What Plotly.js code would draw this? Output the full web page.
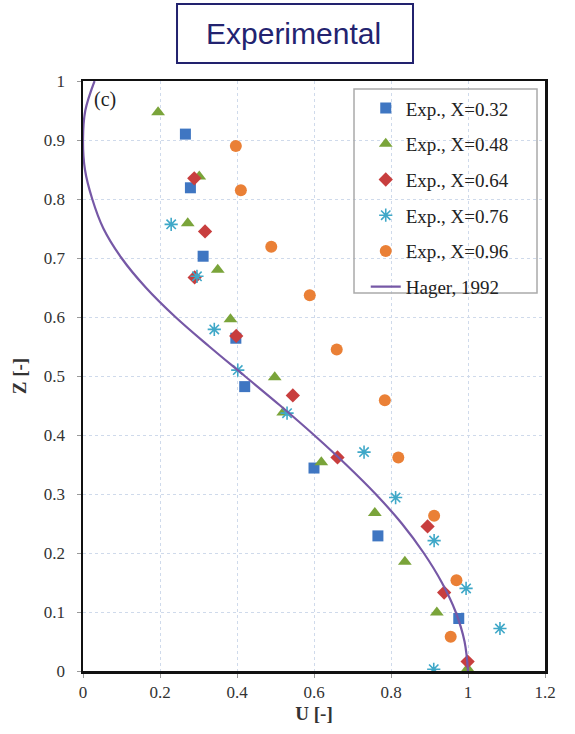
<!DOCTYPE html>
<html>
<head>
<meta charset="utf-8">
<script src="https://cdn.plot.ly/plotly-3.0.1.min.js"></script>
<style>html,body{margin:0;padding:0;background:#fff;}#chart{width:575px;height:734px;}</style>
</head>
<body>
<div id="chart"></div>
<script>
// Exp., X=0.32
const u032 = [0.266, 0.279, 0.312, 0.397, 0.420, 0.600, 0.766, 0.976];
const z032 = [0.910, 0.819, 0.703, 0.564, 0.482, 0.344, 0.229, 0.089];
// Exp., X=0.48
const u048 = [0.195, 0.302, 0.272, 0.350, 0.383, 0.498, 0.520, 0.619, 0.758, 0.836, 0.919, 0.999];
const z048 = [0.947, 0.838, 0.759, 0.680, 0.596, 0.498, 0.438, 0.354, 0.268, 0.185, 0.099, 0.004];
// Exp., X=0.64
const u064 = [0.289, 0.317, 0.290, 0.398, 0.545, 0.661, 0.895, 0.938, 0.999];
const z064 = [0.835, 0.745, 0.667, 0.568, 0.467, 0.362, 0.245, 0.133, 0.016];
// Exp., X=0.76
const u076 = [0.229, 0.296, 0.341, 0.402, 0.530, 0.730, 0.812, 0.912, 0.995, 1.083, 0.911];
const z076 = [0.757, 0.669, 0.579, 0.510, 0.437, 0.371, 0.294, 0.221, 0.140, 0.072, 0.003];
// Exp., X=0.96
const u096 = [0.397, 0.410, 0.489, 0.589, 0.659, 0.784, 0.819, 0.912, 0.970, 0.955];
const z096 = [0.890, 0.815, 0.719, 0.637, 0.545, 0.459, 0.362, 0.263, 0.154, 0.058];
// Hager, 1992
const uHager = [0.030, 0.006, 0.000, 0.005, 0.024, 0.053, 0.100, 0.163, 0.240, 0.328, 0.420, 0.512, 0.600, 0.683, 0.760, 0.828, 0.885, 0.932, 0.968, 0.991, 1.000];
const zHager = [1.00, 0.95, 0.90, 0.85, 0.80, 0.75, 0.70, 0.65, 0.60, 0.55, 0.50, 0.45, 0.40, 0.35, 0.30, 0.25, 0.20, 0.15, 0.10, 0.05, 0.00];

const xTicks = [0, 0.2, 0.4, 0.6, 0.8, 1, 1.2];
const xTickText = ['0', '0.2', '0.4', '0.6', '0.8', '1', '1.2'];
const yTicks = [0, 0.1, 0.2, 0.3, 0.4, 0.5, 0.6, 0.7, 0.8, 0.9, 1];
const yTickText = ['0', '0.1', '0.2', '0.3', '0.4', '0.5', '0.6', '0.7', '0.8', '0.9', '1'];

const serif = '"Liberation Serif", "Times New Roman", serif';

const traces = [
  {x: u032, y: z032, name: 'Exp., X=0.32', mode: 'markers', legendgroup: 'a',
   marker: {symbol: 'square', size: 11, color: '#3f76c2'}},
  {x: u048, y: z048, name: 'Exp., X=0.48', mode: 'markers', legendgroup: 'b',
   marker: {symbol: 'triangle-up', size: 12, color: '#7aa43a'}},
  {x: u064, y: z064, name: 'Exp., X=0.64', mode: 'markers', legendgroup: 'c',
   marker: {symbol: 'diamond', size: 11, color: '#c83e3e'}},
  {x: u076, y: z076, name: 'Exp., X=0.76', mode: 'markers', legendgroup: 'd',
   marker: {symbol: 'asterisk-open', size: 11, color: '#3fa8c8', line: {width: 1.6, color: '#3fa8c8'}}},
  {x: u096, y: z096, name: 'Exp., X=0.96', mode: 'markers', legendgroup: 'e',
   marker: {symbol: 'circle', size: 12, color: '#ea8036'}},
  {x: uHager, y: zHager, name: 'Hager, 1992', mode: 'lines', legendgroup: 'f',
   line: {color: '#7658a6', width: 2.2, shape: 'spline', smoothing: 1}}
];

const layout = {
  width: 575, height: 734,
  margin: {l: 83, r: 30, t: 81, b: 63},
  paper_bgcolor: '#ffffff', plot_bgcolor: '#ffffff',
  showlegend: true,
  legend: {
    x: 0.612, y: 0.986, xanchor: 'left', yanchor: 'top',
    bgcolor: 'rgba(255,255,255,0)', borderwidth: 0,
    font: {family: serif, size: 19, color: '#222'},
    tracegroupgap: 8
  },
  xaxis: {
    range: [0, 1.2], tickvals: xTicks, ticktext: xTickText,
    showgrid: true, gridcolor: '#cfdaeb', griddash: 'dot', gridwidth: 1,
    zeroline: false, showline: true, mirror: true, linecolor: '#111', linewidth: 2.5,
    ticks: 'outside', ticklen: 4, tickcolor: '#999', tickwidth: 1,
    tickfont: {family: serif, size: 17, color: '#333'},
    title: {text: '<b>U [-]</b>', font: {family: serif, size: 19, color: '#333'}, standoff: 6}
  },
  yaxis: {
    range: [0, 1], tickvals: yTicks, ticktext: yTickText,
    showgrid: true, gridcolor: '#cfdaeb', griddash: 'dot', gridwidth: 1,
    zeroline: false, showline: true, mirror: true, linecolor: '#111', linewidth: 2.5,
    ticks: 'outside', ticklen: 4, tickcolor: '#999', tickwidth: 1,
    tickfont: {family: serif, size: 17, color: '#333'},
    ticklabelstandoff: 8,
    title: {text: '<b>Z [-]</b>', font: {family: serif, size: 19, color: '#333'}, standoff: 12}
  },
  shapes: [
    {type: 'rect', xref: 'paper', yref: 'paper', x0: 0.2035, x1: 0.7143, y0: 1.0305, y1: 1.1305,
     line: {color: '#22226e', width: 2}, fillcolor: 'rgba(0,0,0,0)'},
    {type: 'rect', xref: 'paper', yref: 'paper', x0: 0.5866, x1: 0.9827, y0: 0.6407, y1: 0.9864,
     line: {color: '#aaaaaa', width: 1.5}, fillcolor: 'rgba(0,0,0,0)'}
  ],
  annotations: [
    {text: 'Experimental', xref: 'paper', yref: 'paper', x: 0.4567, y: 1.0805,
     xanchor: 'center', yanchor: 'middle', showarrow: false,
     font: {family: '"Liberation Sans", Arial, sans-serif', size: 30, color: '#232370'}},
    {text: '(c)', xref: 'paper', yref: 'paper', x: 0.047, y: 0.968,
     xanchor: 'center', yanchor: 'middle', showarrow: false,
     font: {family: serif, size: 20, color: '#222'}}
  ]
};

Plotly.newPlot('chart', traces, layout, {displayModeBar: false, staticPlot: true});
</script>
</body>
</html>
